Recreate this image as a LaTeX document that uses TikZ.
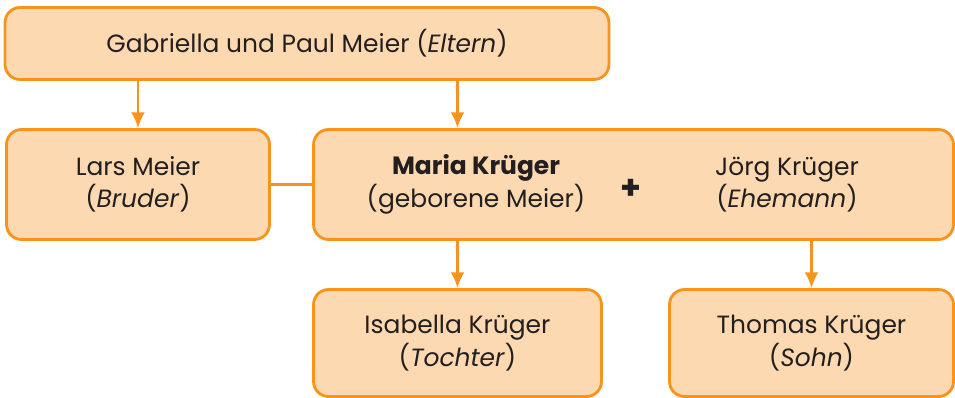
\documentclass[tikz,border=0pt]{standalone}
\usepackage{fontspec}
\setmainfont{Poppins}
\usepackage{xcolor}
\usepackage{tikz}
\usetikzlibrary{positioning, arrows.meta}
\definecolor{boxfill}{HTML}{FCD9B0}
\definecolor{boxline}{HTML}{F7941D}
\definecolor{textgray}{HTML}{231F20}
\tikzset{
    person/.style={
        draw = boxline, fill = boxfill,
        line width = 1.6pt,
        rounded corners = 0.3cm,
        minimum height = 2.2cm,
        align = center,
        text = textgray,
        font = \fontsize{14.2}{18.5}\selectfont
    },
    label/.style = {
        align = center,
        text = textgray,
        font = \fontsize{14.2}{18.5}\selectfont
    },
    line/.style = {draw = boxline, line width = 1.5pt, -{Latex[length=9pt, width=8pt]}}
}

\begin{document}
\begin{tikzpicture}[x = 0.02cm, y = -0.02cm]

    \useasboundingbox (0,0) rectangle (955,398);

    \node[person, minimum width = 12.08cm, minimum height = 1.44cm] (gparents) at (307,43.5) {Gabriella und Paul Meier (\textit{Eltern})};
    \node[person, minimum width = 5.26cm] (lars) at (138,184.5) {Lars Meier\\(\textit{Bruder})};
    \node[person, minimum width = 12.80cm] (maria) at (633.5,184.5) {};
    \node[person, minimum width = 5.76cm, minimum height = 2.14cm] (isabella) at (457.5,343) {Isabella Krüger\\(\textit{Tochter})};
    \node[person, minimum width = 5.68cm, minimum height = 2.14cm] (thomas) at (811.5,343) {Thomas Krüger\\(\textit{Sohn})};

    \node[label] (mname) at (476,184.5) {\textbf{Maria Krüger}\\(geborene Meier)};
    \node[label, font = \fontsize{19}{18}\selectfont] (plus) at (631,189) {\textbf{+}};
    \node[label] (jname) at (787,184.5) {Jörg Krüger\\(\textit{Ehemann})};

    \draw[line] (lars.north |- gparents.south) -- (lars.north);
    \draw[line] (isabella.north |- gparents.south) -- (isabella.north |- maria.north);
    \draw[boxline, line width = 1.5pt] (lars.east) -- (maria.west);
    \draw[line] (isabella.north |- maria.south) -- (isabella.north);
    \draw[line] (thomas.north |- maria.south) -- (thomas.north);

\end{tikzpicture}
\end{document}
